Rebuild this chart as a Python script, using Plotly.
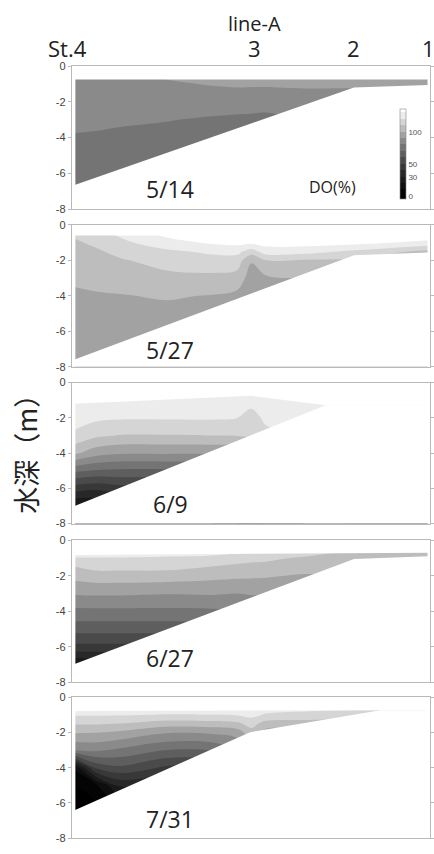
import plotly.graph_objects as go

# Stations along line-A (distance in km from St.4)
station_labels = ["St.4", "3", "2", "1"]
station_x = [0.0, 5.1, 7.9, 10.0]

dates = ["5/14", "5/27", "6/9", "6/27", "7/31"]

# Grid nodes of the DO sections
grid_x = [0, 0.6, 1.3, 2.6, 3.9, 4.6, 5.0, 5.4, 6.5, 7.9, 10]
grid_y = [-0.5, -1, -1.5, -2, -3, -4, -5, -6, -7, -8]

# DO (%) per depth row (top to bottom), one value per grid_x column
do_0514 = [
    [87, 87.5, 88, 91, 93, 94, 94, 94.5, 95, 96, 96],
    [86, 87, 87, 89, 90.5, 91, 91, 91, 91.5, 92, 94],
    [85.5, 86, 86, 87.5, 88, 88.5, 88, 88, 88.5, 88, 92],
    [85, 85, 85, 86, 86, 86, 86, 86, 86, 86, 90],
    [83, 82.5, 82, 80.5, 78.5, 77.5, 77, 76, 82, 84, 88],
    [79, 78.5, 77, 76, 75, 74, 74, 74, 80, 82, 86],
    [76, 75, 74, 73, 73, 72, 72, 72, 78, 80, 84],
    [74, 74, 73, 72, 72, 71, 71, 71, 76, 78, 82],
    [73, 73, 72, 71, 71, 71, 71, 71, 75, 77, 80],
    [72, 72, 72, 71, 71, 71, 71, 71, 75, 76, 80],
]
do_0527 = [
    [112, 116, 122, 133, 138, 139, 140, 140, 140, 140, 138],
    [108.5, 112, 117.5, 126, 131.5, 133, 132, 134, 134, 133, 127],
    [107, 108.5, 113, 118, 122, 123, 115, 125, 124, 118, 107],
    [105.5, 106.5, 109, 114, 116, 115, 101, 110, 109, 108, 100],
    [102, 103, 104.5, 107, 107.5, 106, 95, 98, 100, 100, 98],
    [98, 99, 99.5, 101, 99.5, 97, 93, 95, 98, 98, 96],
    [96, 96.5, 97, 97, 96, 95, 93, 94, 96, 96, 95],
    [95, 95, 95.5, 95.5, 95, 94, 93, 94, 95, 95, 95],
    [94, 94, 94.5, 94.5, 94, 94, 93, 94, 95, 95, 95],
    [94, 94, 94, 94, 94, 94, 93, 94, 95, 95, 95],
]
do_0609 = [
    [127, 128, 128, 128, 128, 128, 128, 128, 128, 128, 128],
    [126, 127, 127, 127, 127, 127, 125, 127, 127, 127, 127],
    [125, 126, 125.5, 125.5, 125, 124, 119.5, 125, 126, 126, 126],
    [124, 122, 121, 121, 121, 120, 116, 122, 124, 125, 125],
    [118, 112, 109.5, 109.5, 110, 110.5, 112, 117, 120, 122, 122],
    [102, 94, 91, 91, 91, 92, 100, 110, 115, 115, 115],
    [72, 69, 68, 68, 70, 72, 90, 100, 110, 110, 110],
    [45, 42, 46, 46, 50, 55, 80, 90, 100, 100, 100],
    [18, 20, 25, 25, 30, 40, 70, 80, 90, 90, 90],
    [10, 10, 15, 15, 20, 30, 60, 70, 80, 80, 80],
]
do_0627 = [
    [126, 126, 126, 125.5, 125, 124, 123, 122, 118, 111, 110],
    [119.5, 119.5, 119.5, 119, 118, 115, 113, 112, 108.5, 106, 105.5],
    [109.5, 113, 113, 113, 109.5, 107.5, 107, 107, 104, 103, 103],
    [103.5, 105.5, 105.5, 105, 103, 102, 101.5, 101, 99, 100, 100],
    [91, 91.5, 91.5, 90.5, 91, 90, 91, 91, 92, 95, 95],
    [77.5, 77.5, 77.5, 77.5, 78, 79, 80, 82, 85, 90, 90],
    [64, 64, 64, 64, 65, 66, 70, 72, 78, 85, 85],
    [47, 47, 47, 48, 50, 55, 60, 62, 70, 80, 80],
    [20, 22, 24, 28, 35, 45, 50, 52, 60, 75, 75],
    [10, 12, 14, 18, 25, 35, 40, 42, 50, 70, 70],
]
do_0731 = [
    [126, 126.5, 127, 127, 127, 128, 128, 126, 125, 124, 124],
    [121, 121, 121, 119.5, 120, 121, 123, 119, 117, 116, 116],
    [111, 111, 110, 105, 106, 108, 114, 106, 105, 105, 105],
    [101, 100.5, 98, 91, 92, 95, 106, 96, 96, 96, 96],
    [81, 82, 78, 70, 71, 80, 98, 85, 85, 85, 85],
    [12, 52, 58, 48, 50, 60, 80, 70, 70, 70, 70],
    [0, 8, 32, 30, 30, 40, 60, 50, 50, 50, 50],
    [0, 0, 15, 15, 15, 20, 40, 30, 30, 30, 30],
    [0, 0, 5, 5, 5, 5, 20, 10, 10, 10, 10],
    [0, 0, 0, 0, 0, 0, 0, 0, 0, 0, 0],
]
do_sections = [do_0514, do_0527, do_0609, do_0627, do_0731]

# Water surface and bottom profile of each section (x in km, y in m)
surface_x = [[0, 10], [0, 10], [0, 5.0, 7.1], [0, 10], [0, 8.65]]
surface_y = [[-0.75, -0.75], [-0.6, -0.6], [-1.2, -0.75, -1.29], [-0.82, -0.7], [-0.78, -0.75]]
bottom_x = [[0, 7.9, 10], [0, 7.9, 10], [0, 7.1], [0, 7.9, 10], [0, 4.96, 8.65]]
bottom_y = [[-6.65, -1.2, -1.05], [-7.58, -1.71, -1.55], [-7.0, -1.29], [-6.97, -1.05, -0.9],
            [-6.42, -1.99, -0.75]]

# Colour bar ticks (DO %)
cbar_ticks = [0, 30, 50, 100]

# Contour levels: 0..130 every 10 %; one grey per band (last band = above 130)
level_start, level_end, level_step = 0, 130, 10
band_grays = [4, 14, 26, 40, 56, 74, 94, 116, 138, 162, 189, 213, 236, 255]
n_bands = len(band_grays)
colorscale = [[0.0, "rgb(0,0,0)"]]
for k, g in enumerate(band_grays):
    colorscale.append([(k + 1) / n_bands, f"rgb({g},{g},{g})"])

W, H = 434, 854
panel_top = [61, 222, 382, 542, 701]
panel_bottom = [206, 366, 525, 686, 844]
plot_left, plot_right = 72, 431
date_label_y = [-6.85, -7.05, -6.87, -6.6, -6.93]


def white_patch(xs, ys, xa, ya):
    return go.Scatter(x=xs, y=ys, mode="none", fill="toself", fillcolor="white",
                      xaxis=xa, yaxis=ya, showlegend=False, hoverinfo="skip")


fig = go.Figure()
layout = {}
for i, (z, d) in enumerate(zip(do_sections, dates)):
    n = "" if i == 0 else str(i + 1)
    xa, ya = "x" + n, "y" + n
    fig.add_trace(go.Contour(
        x=grid_x, y=grid_y, z=z, xaxis=xa, yaxis=ya,
        autocontour=False,
        contours=dict(start=level_start, end=level_end, size=level_step,
                      coloring="fill", showlines=False),
        line=dict(width=0, smoothing=1),
        colorscale=colorscale,
        showscale=(i == 0),
        colorbar=dict(
            x=401 / W, xanchor="left", y=1 - 150.5 / H, yanchor="middle",
            len=91 / H, lenmode="fraction", thickness=6,
            outlinewidth=0.6, outlinecolor="#888",
            tickvals=cbar_ticks, ticks="", ticklabelposition="outside",
            tickfont=dict(size=8, color="#555", family="Liberation Sans"),
            xpad=0, ypad=0,
        ),
        hoverinfo="skip",
    ))
    # white masks: above the water surface, below the bottom, and the grid edges
    sx, sy = surface_x[i], surface_y[i]
    fig.add_trace(white_patch([-0.3] + sx + [10.4, 10.4, -0.3],
                              [sy[0]] + sy + [sy[-1], 0.5, 0.5], xa, ya))
    bx, by = bottom_x[i], bottom_y[i]
    fig.add_trace(white_patch(bx + [10.4, 10.4, bx[0]],
                              by + [by[-1], -8.5, -8.5], xa, ya))
    fig.add_trace(white_patch([-0.3, 0.02, 0.02, -0.3], [0.5, 0.5, -8.5, -8.5], xa, ya))
    fig.add_trace(white_patch([9.98, 10.4, 10.4, 9.98], [0.5, 0.5, -8.5, -8.5], xa, ya))

    layout["xaxis" + n] = dict(
        domain=[plot_left / W, plot_right / W], anchor=ya,
        range=[-0.08, 10.05], showticklabels=False, ticks="",
        showline=True, linecolor="#b9b9b9", linewidth=1, mirror=True,
        showgrid=False, zeroline=False, fixedrange=True)
    layout["yaxis" + n] = dict(
        domain=[1 - panel_bottom[i] / H, 1 - panel_top[i] / H], anchor=xa,
        range=[-8, 0], tickvals=[0, -2, -4, -6, -8], ticktext=["0", "-2", "-4", "-6", "-8"],
        ticks="outside", ticklen=3, tickcolor="#b9b9b9",
        showline=True, linecolor="#b9b9b9", linewidth=1, mirror="ticks",
        showgrid=False, zeroline=False, fixedrange=True,
        tickfont=dict(size=11, color="#444", family="Liberation Sans"))

annotations = []
label_font = dict(family="Open Sans", size=22, color="#222")
annotations.append(dict(text="line-A", x=255 / W, y=1 - 18 / H, xref="paper", yref="paper",
                        xanchor="center", yanchor="middle", showarrow=False,
                        font=dict(family="Open Sans", size=20, color="#222")))
for lab, sxv in zip(station_labels, station_x):
    annotations.append(dict(
        text=lab, x=sxv, xref="x", y=1 - 43 / H, yref="paper", showarrow=False,
        xanchor="right" if lab.startswith("St") else "center", yanchor="middle",
        xshift=14 if lab.startswith("St") else 0, font=label_font))
for i, d in enumerate(dates):
    n = "" if i == 0 else str(i + 1)
    annotations.append(dict(text=d, x=2.7, y=date_label_y[i], xref="x" + n, yref="y" + n,
                            xanchor="center", yanchor="middle",
                            showarrow=False, font=dict(family="Open Sans", size=23, color="#222")))
annotations.append(dict(text="DO(%)", x=7.3, y=-6.74, xref="x", yref="y", showarrow=False,
                        xanchor="center", yanchor="middle",
                        font=dict(family="Open Sans", size=16, color="#222")))
annotations.append(dict(text="水深（m）", x=26 / W, y=1 - 447 / H, xref="paper", yref="paper",
                        xanchor="center", yanchor="middle",
                        showarrow=False, textangle=-90,
                        font=dict(family="Noto Sans CJK JP", size=27, color="#222")))

fig.update_layout(
    width=W, height=H, margin=dict(l=0, r=0, t=0, b=0),
    paper_bgcolor="white", plot_bgcolor="white",
    showlegend=False, annotations=annotations, **layout)

fig.write_html("out.html")
